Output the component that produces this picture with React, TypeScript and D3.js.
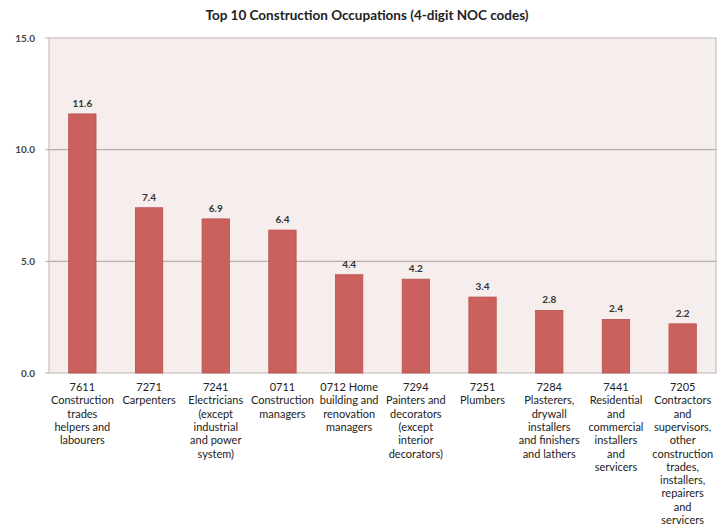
import React from "react";
import * as d3 from "d3";

const title = "Top 10 Construction Occupations (4-digit NOC codes)";
const categories: string[][] = [
  ["7611", "Construction", "trades", "helpers and", "labourers"],
  ["7271", "Carpenters"],
  ["7241", "Electricians", "(except", "industrial", "and power", "system)"],
  ["0711", "Construction", "managers"],
  ["0712 Home", "building and", "renovation", "managers"],
  ["7294", "Painters and", "decorators", "(except", "interior", "decorators)"],
  ["7251", "Plumbers"],
  ["7284", "Plasterers,", "drywall", "installers", "and finishers", "and lathers"],
  ["7441", "Residential", "and", "commercial", "installers", "and", "servicers"],
  ["7205", "Contractors", "and", "supervisors,", "other", "construction", "trades,", "installers,", "repairers", "and", "servicers"],
];
const values = [11.6, 7.4, 6.9, 6.4, 4.4, 4.2, 3.4, 2.8, 2.4, 2.2];
const yTicks = [0, 5, 10, 15];

const W = 717, H = 526;
const left = 49, right = 716, top = 38, bottom = 373;
const font = "Lato, 'Open Sans', sans-serif";

export default function App() {
  const x = d3.scaleBand<number>().domain(d3.range(values.length)).range([left, right]).paddingInner(0.59).paddingOuter(0.295);
  const y = d3.scaleLinear().domain([0, 15]).range([bottom, top]);
  const xc = d3.scaleBand<number>().domain(d3.range(values.length)).range([left, right]);
  return (
    <svg width={W} height={H} style={{ position: "absolute", left: 0, top: 0, background: "#fff" }} fontFamily={font}>
      <text x={367} y={20} textAnchor="middle" fontSize={13.5} fontWeight={700} fill="#222">{title}</text>
      <rect x={left} y={top} width={right - left} height={bottom - top} fill="#f6eeed" stroke="#bdb5b4" strokeWidth={1} />
      {yTicks.map((t) => (
        <g key={t}>
          {t > 0 && t < 15 && <line x1={left} x2={right} y1={y(t)} y2={y(t)} stroke="#b7afae" strokeWidth={1.2} />}
          <line x1={left - 4} x2={left} y1={y(t)} y2={y(t)} stroke="#b7afae" />
          <text x={35} y={y(t) + 3.5} textAnchor="end" fontSize={10} fill="#444" fontWeight={700}>{t.toFixed(1)}</text>
        </g>
      ))}
      {values.map((v, i) => (
        <g key={i}>
          <rect x={x(i)!} y={y(v)} width={x.bandwidth()} height={bottom - y(v)} fill="#cb615c" stroke="#b8504b" strokeWidth={0.8} />
          <text x={x(i)! + x.bandwidth() / 2} y={y(v) - 7} textAnchor="middle" fontSize={10} fill="#333" fontWeight={700}>{v.toFixed(1)}</text>
          {categories[i].map((line, j) => (
            <text key={j} x={xc(i)! + xc.bandwidth() / 2} y={391 + j * 13.3} textAnchor="middle" fontSize={11} fill="#222">{line}</text>
          ))}
        </g>
      ))}
    </svg>
  );
}
